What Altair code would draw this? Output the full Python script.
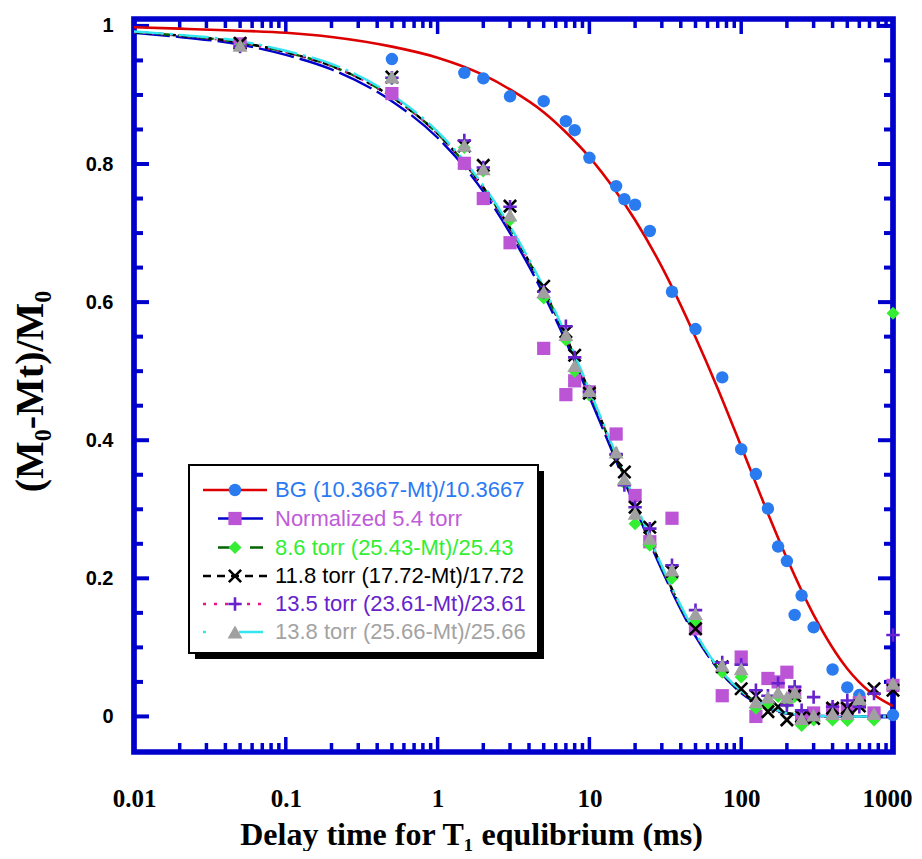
import altair as alt
import pandas as pd

# ---------------- data ----------------
bg_x = [0.5, 1.5, 2, 3, 5, 7, 8, 10, 15, 17, 20, 25, 35, 50, 75, 100, 125, 150, 175, 200, 225, 250, 300, 400, 500, 600, 1000]
bg_y = [0.952, 0.932, 0.924, 0.898, 0.891, 0.862, 0.849, 0.809, 0.768, 0.749, 0.741, 0.703, 0.615, 0.561, 0.491, 0.387, 0.351, 0.301, 0.246, 0.225, 0.147, 0.175, 0.129, 0.068, 0.042, 0.031, 0.002]

n54_x = [0.05, 0.5, 1.5, 2, 3, 5, 7, 8, 10, 15, 20, 25, 35, 50, 75, 100, 125, 150, 175, 200, 225, 250, 300, 400, 500, 600, 750, 1000]
n54_y = [0.974, 0.902, 0.801, 0.750, 0.686, 0.533, 0.466, 0.486, 0.470, 0.409, 0.320, 0.253, 0.287, 0.127, 0.030, 0.086, 0.000, 0.055, 0.050, 0.064, 0.035, 0.000, 0.005, 0.010, 0.010, 0.020, 0.005, 0.045]

t_x = [0.05, 0.5, 1.5, 2, 3, 5, 7, 8, 10, 15, 17, 20, 25, 35, 50, 75, 100, 125, 150, 175, 200, 225, 250, 300, 400, 500, 600, 750, 1000]
t86_y = [0.970, 0.924, 0.824, 0.790, 0.719, 0.606, 0.545, 0.500, 0.465, 0.377, 0.338, 0.279, 0.248, 0.200, 0.137, 0.064, 0.057, 0.012, 0.016, 0.029, 0.020, 0.029, -0.013, -0.005, -0.005, -0.006, 0.018, -0.005, 0.584]
t118_y = [0.975, 0.926, 0.826, 0.798, 0.739, 0.623, 0.557, 0.523, 0.468, 0.371, 0.354, 0.303, 0.274, 0.210, 0.127, 0.072, 0.040, 0.030, 0.007, 0.014, -0.005, 0.030, 0.000, -0.003, 0.012, 0.012, 0.015, 0.040, 0.038]
t135_y = [0.970, 0.925, 0.834, 0.795, 0.738, 0.615, 0.565, 0.520, 0.470, 0.380, 0.335, 0.303, 0.272, 0.219, 0.154, 0.078, 0.075, 0.038, 0.030, 0.048, 0.016, 0.043, 0.009, 0.028, 0.014, 0.023, 0.014, 0.033, 0.118]
t138_y = [0.972, 0.926, 0.827, 0.793, 0.726, 0.615, 0.553, 0.508, 0.472, 0.383, 0.344, 0.294, 0.258, 0.212, 0.149, 0.074, 0.069, 0.021, 0.028, 0.035, 0.028, 0.035, -0.003, 0.002, 0.004, 0.004, 0.026, 0.004, 0.048]

# fitted curves
fit_x = [0.01, 0.02, 0.05, 0.1, 0.2, 0.5, 1, 2, 3, 5, 7, 10, 15, 20, 30, 50, 70, 100, 150, 200, 300, 500, 700, 1000]
fit_bg = [0.998, 0.996, 0.993, 0.990, 0.984, 0.970, 0.954, 0.929, 0.908, 0.875, 0.846, 0.810, 0.760, 0.719, 0.651, 0.549, 0.475, 0.391, 0.294, 0.229, 0.147, 0.069, 0.036, 0.015]
fit_n54 = [0.990, 0.984, 0.973, 0.958, 0.937, 0.891, 0.838, 0.760, 0.700, 0.611, 0.543, 0.463, 0.370, 0.303, 0.212, 0.116, 0.069, 0.034, 0.012, 0.004, 0.001, 0.0, 0.0, 0.0]
fit_mid = [0.991, 0.986, 0.976, 0.962, 0.942, 0.897, 0.844, 0.766, 0.707, 0.618, 0.550, 0.470, 0.376, 0.308, 0.216, 0.119, 0.071, 0.036, 0.013, 0.005, 0.001, 0.0, 0.0, 0.0]
fit_138 = [0.992, 0.987, 0.978, 0.964, 0.945, 0.900, 0.847, 0.769, 0.710, 0.621, 0.553, 0.473, 0.379, 0.311, 0.218, 0.121, 0.072, 0.037, 0.014, 0.005, 0.001, 0.0, 0.0, 0.0]

labels = ["BG (10.3667-Mt)/10.3667", "Normalized 5.4 torr", "8.6 torr (25.43-Mt)/25.43",
          "11.8 torr (17.72-Mt)/17.72", "13.5 torr (23.61-Mt)/23.61", "13.8 torr (25.66-Mt)/25.66"]

x_tick_labels = [0.01, 0.1, 1, 10, 100, 1000]
y_tick_labels = [0, 0.2, 0.4, 0.6, 0.8, 1.0]
y_minor = [0.05, 0.1, 0.15, 0.25, 0.3, 0.35, 0.45, 0.5, 0.55, 0.65, 0.7, 0.75, 0.85, 0.9, 0.95]
x_major = [0.1, 1, 10, 100]
x_minor = [0.02, 0.03, 0.04, 0.05, 0.06, 0.07, 0.08, 0.09,
           0.2, 0.3, 0.4, 0.5, 0.6, 0.7, 0.8, 0.9,
           2, 3, 4, 5, 6, 7, 8, 9,
           20, 30, 40, 50, 60, 70, 80, 90,
           200, 300, 400, 500, 600, 700, 800, 900]

# ---------------- styles ----------------
W, H = 759, 733
FRAME = "#0000CC"
XS = alt.Scale(type="log", domain=[0.01, 1000])
YS = alt.Scale(domain=[-0.0515, 1.01])
XPATH = "M-1,-1L1,1M-1,1L1,-1"
PLUS = "M-1,0L1,0M0,-1L0,1"

series = [
    dict(x=bg_x, y=bg_y, fy=fit_bg, line="#dd0000", lw=2.6, dash=None, mcol="#2b7bf0", shape="circle", filled=True, size=155, tcol="#2a7af2"),
    dict(x=n54_x, y=n54_y, fy=fit_n54, line="#0000cc", lw=2.4, dash=[36, 6], mcol="#bb55d6", shape="square", filled=True, size=175, tcol="#bf5cd9"),
    dict(x=t_x, y=t86_y, fy=fit_mid, line="#006400", lw=2.4, dash=[14, 8], mcol="#33ee33", shape="diamond", filled=True, size=170, tcol="#33ee33"),
    dict(x=t_x, y=t118_y, fy=fit_mid, line="#000000", lw=2.4, dash=[6, 6], mcol="#000000", shape=XPATH, filled=False, size=150, tcol="#000000"),
    dict(x=t_x, y=t135_y, fy=fit_mid, line="#ee1188", lw=2.4, dash=[2, 7], mcol="#6622cc", shape=PLUS, filled=False, size=180, tcol="#6622cc"),
    dict(x=t_x, y=t138_y, fy=fit_138, line="#33e6f0", lw=2.4, dash=[30, 6, 3, 6], mcol="#a0a0a0", shape="triangle-up", filled=True, size=220, tcol="#a3a3a3"),
]

X_AXIS = alt.Axis(values=x_tick_labels, format="~g", ticks=False, domain=False, grid=False,
                  labelFont="Liberation Serif", labelFontSize=25, labelFontWeight="bold",
                  labelColor="black", labelPadding=34, labelFlush=False,
                  labelOffset={"condition": {"test": "datum.value >= 1000", "value": -6}, "value": 0},
                  title="Delay time for T\u2081 equlibrium (ms)", titleFont="Liberation Serif",
                  titleFontSize=32, titleFontWeight="bold", titleColor="black",
                  titleX=337, titleY=92, titleBaseline="alphabetic")
Y_AXIS = alt.Axis(values=y_tick_labels, format="~g", ticks=False, domain=False, grid=False,
                  labelFont="Liberation Sans", labelFontSize=20, labelFontWeight="bold",
                  labelColor="black", labelPadding=21, labelFlush=False,
                  title="(M\u2080-Mt)/M\u2080", titleFont="Liberation Serif", titleFontSize=40,
                  titleFontWeight="bold", titleColor="black", titleX=-92, titleY=372,
                  titleBaseline="alphabetic")


def X(field):
    return alt.X(field, scale=XS, axis=X_AXIS)


def Y(field):
    return alt.Y(field, scale=YS, axis=Y_AXIS)


layers = []

# tick marks (inward, all four sides)
ymaj = pd.DataFrame({"v": y_tick_labels})
ymin = pd.DataFrame({"v": y_minor})
xmaj = pd.DataFrame({"v": x_major})
xmin = pd.DataFrame({"v": x_minor})
for df, ln in ((ymaj, 15), (ymin, 9)):
    for x0, x1 in ((0, ln), (W, W - ln)):
        layers.append(alt.Chart(df).mark_rule(color=FRAME, strokeWidth=4).encode(
            y=Y("v:Q"), x=alt.value(x0), x2=alt.value(x1)))
for df, ln in ((xmaj, 15), (xmin, 9)):
    for y0, y1 in ((H, H - ln), (0, ln)):
        layers.append(alt.Chart(df).mark_rule(color=FRAME, strokeWidth=3.5).encode(
            x=X("v:Q"), y=alt.value(y0), y2=alt.value(y1)))

# fitted lines
for s in series:
    df = pd.DataFrame({"x": fit_x, "y": s["fy"]})
    kw = dict(color=s["line"], strokeWidth=s["lw"], interpolate="monotone")
    if s["dash"]:
        kw["strokeDash"] = s["dash"]
    layers.append(alt.Chart(df).mark_line(**kw).encode(x=X("x:Q"), y=Y("y:Q")))


def marker(df, s):
    if s["filled"]:
        return alt.Chart(df).mark_point(shape=s["shape"], filled=True, size=s["size"],
                                        color=s["mcol"], opacity=1)
    return alt.Chart(df).mark_point(shape=s["shape"], filled=False, size=s["size"],
                                    color=s["mcol"], strokeWidth=2.6, opacity=1)


# markers
for s in series:
    df = pd.DataFrame({"x": s["x"], "y": s["y"]})
    layers.append(marker(df, s).encode(x=X("x:Q"), y=Y("y:Q")))

# ---------------- legend (drawn inside the plot area) ----------------
one = pd.DataFrame({"a": [0]})
layers.append(alt.Chart(one).mark_rect(color="black").encode(
    x=alt.value(61), x2=alt.value(410), y=alt.value(452), y2=alt.value(640)))
layers.append(alt.Chart(one).mark_rect(fill="white", stroke="black", strokeWidth=2).encode(
    x=alt.value(55), x2=alt.value(404), y=alt.value(446), y2=alt.value(634)))
row_y = [471, 499.5, 528.5, 557, 585, 613]
line_spans = [(69, 133), (84, 129), (84, 129), (69, 133), (69, 133), (69, 129)]
leg_dash = [None, None, [12, 20, 16], [8, 6], [3, 8], [3, 33, 40]]
for r, s in enumerate(series):
    df = pd.DataFrame({"label": [labels[r]], "tcol": [s["tcol"]]})
    kw = dict(color=s["line"], strokeWidth=s["lw"])
    if leg_dash[r]:
        kw["strokeDash"] = leg_dash[r]
    layers.append(alt.Chart(df).mark_rule(**kw).encode(
        y=alt.value(row_y[r]), x=alt.value(line_spans[r][0]), x2=alt.value(line_spans[r][1])))
    layers.append(marker(df, s).encode(y=alt.value(row_y[r]), x=alt.value(101)))
    layers.append(alt.Chart(df).mark_text(align="left", baseline="middle", font="Liberation Sans",
                                          fontSize=22).encode(
        y=alt.value(row_y[r]), x=alt.value(141),
        text="label:N", color=alt.Color("tcol:N", scale=None)))

chart = alt.layer(*layers).properties(
    width=W, height=H,
    autosize=alt.AutoSizeParams(type="none"),
    padding={"left": 126, "top": 11, "right": 21, "bottom": 99},
    background="white",
).configure_view(stroke=FRAME, strokeWidth=5.7)

chart.save("out.html", embed_options={"renderer": "svg", "actions": False})
